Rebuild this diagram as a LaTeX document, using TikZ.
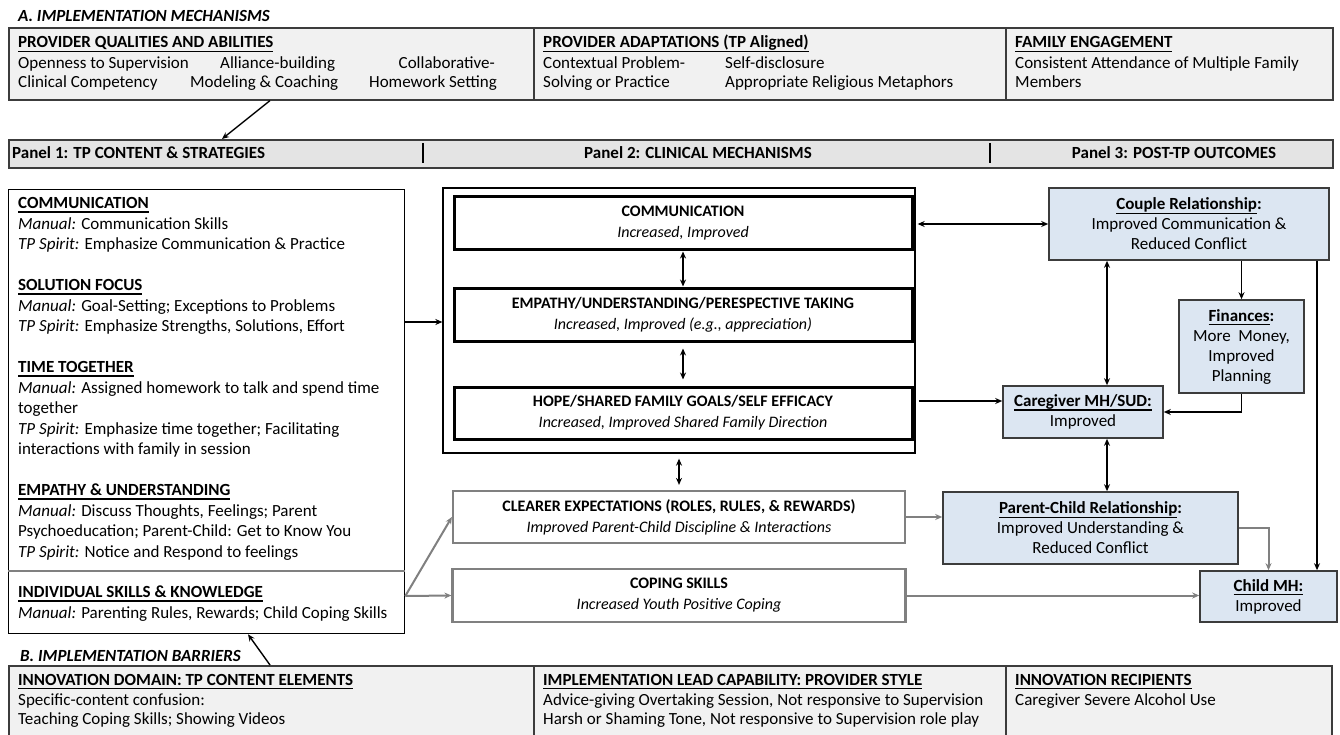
\documentclass[tikz,border=0pt]{standalone}
\usepackage{fontspec}
\setmainfont{Carlito}
\usetikzlibrary{arrows.meta}

\definecolor{boxgray}{HTML}{F1F1F1}
\definecolor{bargray}{HTML}{E4E4E4}
\definecolor{outblue}{HTML}{DCE6F2}
\definecolor{edgegray}{HTML}{808080}
\definecolor{framegray}{HTML}{3C3C3C}

\newcommand{\undl}[1]{\setbox0\hbox{#1}\leavevmode\rlap{\rule[-4pt]{\wd0}{1.2pt}}\box0}
\newcommand{\hd}[1]{\undl{\textbf{#1}}}
\newcommand{\bodysize}{\fontsize{17}{20}\selectfont}

\tikzstyle{section}=[draw=framegray,line width=1.6pt,fill=boxgray,anchor=north west,inner sep=0pt]
\tikzstyle{bar}=[draw=framegray,line width=1.6pt,fill=bargray,anchor=north west,inner sep=0pt]
\tikzstyle{txt}=[anchor=base west,inner sep=0pt,font=\bodysize,align=left]
\tikzstyle{title}=[anchor=base west,inner sep=0pt,font=\bodysize\bfseries\itshape]
\tikzstyle{plainbox}=[draw=black,line width=1.3pt,inner sep=0pt]
\tikzstyle{mechbox}=[draw=black,line width=3pt,inner sep=0pt,align=center,font=\fontsize{16}{21}\selectfont]
\tikzstyle{softbox}=[draw=edgegray,line width=2.2pt,inner sep=0pt,align=center,font=\fontsize{16}{21}\selectfont]
\tikzstyle{outbox}=[draw=framegray,line width=1.6pt,fill=outblue,inner sep=0pt,align=center,font=\fontsize{17}{20}\selectfont]
\tikzstyle{link}=[-{Stealth[length=7pt,width=6pt]},line width=1.4pt]
\tikzstyle{duo}=[{Stealth[length=7pt,width=6pt]}-{Stealth[length=7pt,width=6pt]},line width=1.4pt]
\tikzstyle{glink}=[-{Stealth[length=7pt,width=6pt]},line width=2pt,draw=edgegray]

\begin{document}
\begin{tikzpicture}[x=1pt,y=-1pt]
    \fill[white] (0,0) rectangle (1340,735);
    \useasboundingbox (0,0) rectangle (1340,735);

    %Implementation mechanisms
    \node[title] (mechtitle) at (18,22) {A. IMPLEMENTATION MECHANISMS};
    \foreach \x/\w/\name in {8/525/qual, 533/472/adapt, 1005/327/family}
    \node[section,minimum width=\w,minimum height=72] (\name) at (\x,27) {};
    \foreach \pos/\name/\text in {{(18,48)/qualhd/\hd{PROVIDER QUALITIES AND ABILITIES}},
                                 {(18,69)/open/Openness to Supervision}, {(18,88)/clin/Clinical Competency},
                                 {(220,69)/alli/Alliance-building}, {(190,88)/model/Modeling \& Coaching},
                                 {(543,48)/adapthd/\hd{PROVIDER ADAPTATIONS (TP Aligned)}},
                                 {(543,69)/context/Contextual Problem-}, {(543,88)/solving/Solving or Practice},
                                 {(725,69)/selfdis/Self-disclosure}, {(725,88)/relig/Appropriate Religious Metaphors},
                                 {(1015,48)/familyhd/\hd{FAMILY ENGAGEMENT}},
                                 {(1015,69)/attend/Consistent Attendance of Multiple Family}, {(1015,88)/members/Members}}
    \node[txt] (\name) at \pos {\text};
    \node[txt,anchor=base east] (collab) at (495,69) {Collaborative-};
    \node[txt,anchor=base east] (homework) at (497,88) {Homework Setting};

    %Panel headers
    \node[bar,minimum width=1324,minimum height=28] (panels) at (8,139) {};
    \node[txt,font=\bodysize\bfseries] (panelone) at (12,159) {Panel 1: TP CONTENT \& STRATEGIES};
    \node[txt,anchor=base,font=\bodysize\bfseries] (paneltwo) at (698,159) {Panel 2: CLINICAL MECHANISMS};
    \node[txt,anchor=base,font=\bodysize\bfseries] (panelthree) at (1174,159) {Panel 3: POST-TP OUTCOMES};
    \draw[line width=1.2pt] (423,143) -- (423,163);
    \draw[line width=1.2pt] (990,143) -- (990,163);

    %Panel 1
    \node[plainbox,anchor=north west,minimum width=396,minimum height=444] (tpbox) at (8,189) {};
    \node[txt,font=\fontsize{17}{20.5}\selectfont] (tptext) at (18,557) {%
        \hd{COMMUNICATION}\\
        \textit{Manual:} Communication Skills\\
        \textit{TP Spirit:} Emphasize Communication \& Practice\\[20.5pt]
        \hd{SOLUTION FOCUS}\\
        \textit{Manual:} Goal-Setting; Exceptions to Problems\\
        \textit{TP Spirit:} Emphasize Strengths, Solutions, Effort\\[20.5pt]
        \hd{TIME TOGETHER}\\
        \textit{Manual:} Assigned homework to talk and spend time\\
        together\\
        \textit{TP Spirit:} Emphasize time together; Facilitating\\
        interactions with family in session\\[20.5pt]
        \hd{EMPATHY \& UNDERSTANDING}\\
        \textit{Manual:} Discuss Thoughts, Feelings; Parent\\
        Psychoeducation; Parent-Child: Get to Know You\\
        \textit{TP Spirit:} Notice and Respond to feelings};
    \draw[edgegray,line width=1.2pt] (tpbox.west |- 0,571) -- (tpbox.east |- 0,571);
    \node[txt,font=\fontsize{17}{20.5}\selectfont] (skilltext) at (18,618) {%
        \hd{INDIVIDUAL SKILLS \& KNOWLEDGE}\\
        \textit{Manual:} Parenting Rules, Rewards; Child Coping Skills};
    \coordinate (skill) at (tpbox.east |- 0,596);

    %Panel 2
    \node[plainbox,minimum width=472,minimum height=265] (mech) at (679,320.5) {};
    \node[mechbox,minimum width=458,minimum height=53] (comm) at (683,223.5) {\textbf{COMMUNICATION}\\\textit{Increased, Improved}};
    \node[mechbox,minimum width=458,minimum height=53] (empathy) at (683,314.5) {\textbf{EMPATHY/UNDERSTANDING/PERESPECTIVE TAKING}\\\textit{Increased, Improved (e.g., appreciation)}};
    \node[mechbox,minimum width=458,minimum height=52] (hope) at (683,413) {\textbf{HOPE/SHARED FAMILY GOALS/SELF EFFICACY}\\\textit{Increased, Improved Shared Family Direction}};
    \node[softbox,minimum width=452,minimum height=52] (clearer) at (679,517) {\textbf{CLEARER EXPECTATIONS (ROLES, RULES, \& REWARDS)}\\\textit{Improved Parent-Child Discipline \& Interactions}};
    \node[softbox,minimum width=453,minimum height=53] (coping) at (679,595.5) {\textbf{COPING SKILLS}\\\textit{Increased Youth Positive Coping}};

    %Panel 3
    \node[outbox,minimum width=280,minimum height=72] (couple) at (1189,224) {\undl{\textbf{Couple Relationship}}\textbf{:}\\Improved Communication \&\\Reduced Conflict};
    \node[outbox,minimum width=125,minimum height=93] (finances) at (1241.5,346.5) {\undl{\textbf{Finances}}\textbf{:}\\More~ Money,\\Improved\\Planning};
    \node[outbox,minimum width=160,minimum height=52] (caregiver) at (1083,412) {\hd{Caregiver MH/SUD:}\\Improved};
    \node[outbox,minimum width=295,minimum height=72] (parent) at (1090.5,528) {\undl{\textbf{Parent-Child Relationship}}\textbf{:}\\Improved Understanding \&\\Reduced Conflict};
    \node[outbox,minimum width=137,minimum height=51] (childmh) at (1268.5,596.5) {\hd{Child MH:}\\Improved};
    \coordinate (cgx) at (1107,0);
    \coordinate (farx) at (1317,0);

    %Implementation barriers
    \node[title] (barrtitle) at (20,661) {B. IMPLEMENTATION BARRIERS};
    \foreach \x/\w/\name in {8/525/domain, 533/472/lead, 1005/326/recip}
    \node[section,minimum width=\w,minimum height=80] (\name) at (\x,665) {};
    \foreach \pos/\name/\text in {{(18,685)/domainhd/\hd{INNOVATION DOMAIN: TP CONTENT ELEMENTS}},
                                 {(18,705)/confusion/Specific-content confusion:},
                                 {(18,724)/teaching/Teaching Coping Skills; Showing Videos},
                                 {(543,685)/leadhd/\hd{IMPLEMENTATION LEAD CAPABILITY: PROVIDER STYLE}},
                                 {(543,705)/advice/Advice-giving Overtaking Session, Not responsive to Supervision},
                                 {(543,724)/harsh/Harsh or Shaming Tone, Not responsive to Supervision role play},
                                 {(1015,685)/recipthd/\hd{INNOVATION RECIPIENTS}},
                                 {(1015,705)/alcohol/Caregiver Severe Alcohol Use}}
    \node[txt] (\name) at \pos {\text};

    %Connectors
    \draw[link] (270,0 |- qual.south) -- (222,0 |- panels.north);
    \draw[link] (270,0 |- domain.north) -- (248,0 |- tpbox.south);
    \draw[link] (tpbox.east |- 0,322) -- (mech.west |- 0,322);
    \draw[duo] (comm.south) -- (empathy.north);
    \draw[duo,shorten <=6pt,shorten >=6pt] (empathy.south) -- (hope.north);
    \draw[duo,shorten <=5pt,shorten >=5pt] (mech.south) -- (clearer.north);
    \draw[duo,shorten <=2pt] (mech.east |- couple.west) -- (couple.west);
    \draw[link,shorten <=3pt] (mech.east |- 0,401) -- (caregiver.west |- 0,401);
    \draw[link] (couple.south -| finances.north) -- (finances.north);
    \draw[link] (finances.south) |- (caregiver.east);
    \draw[duo] (couple.south -| cgx) -- (caregiver.north -| cgx);
    \draw[duo] (caregiver.south -| cgx) -- (parent.north -| cgx);
    \draw[link] (couple.south -| farx) -- (childmh.north -| farx);
    \draw[glink] (skill) -- (clearer.west);
    \draw[glink] (skill) -- (coping.west);
    \draw[glink] (clearer.east) -- (parent.west |- clearer.east);
    \draw[glink] (coping.east) -- (childmh.west |- coping.east);
    \draw[glink] (parent.east) -| (childmh.north);
\end{tikzpicture}
\end{document}
